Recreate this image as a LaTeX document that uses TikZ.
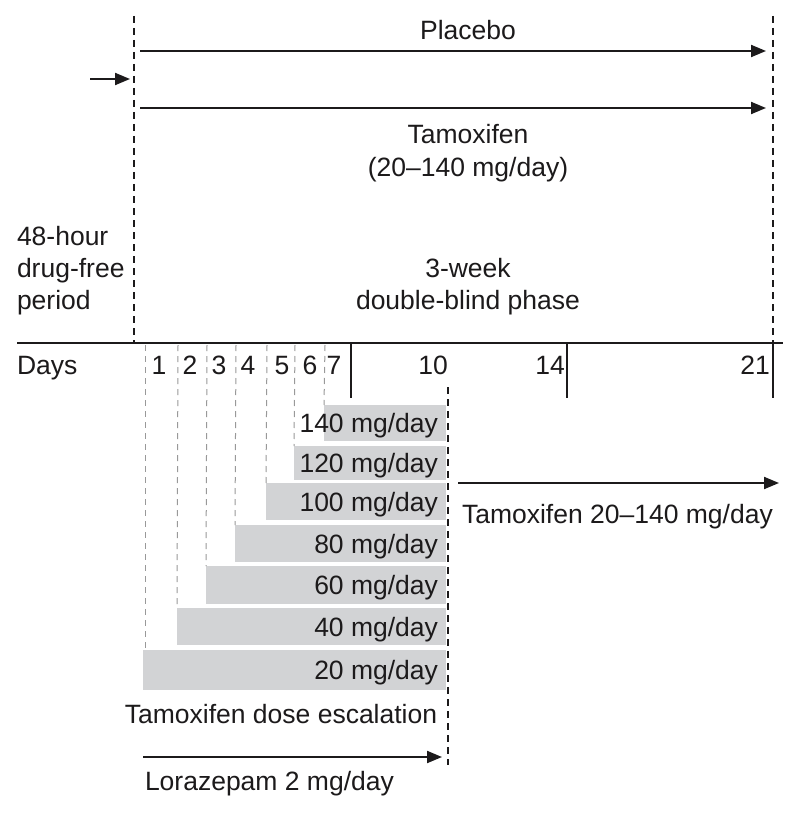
\documentclass[tikz,border=0pt]{standalone}
\usepackage{fontspec}
\setmainfont{Liberation Sans}
\usetikzlibrary{arrows.meta}
\definecolor{barfill}{RGB}{210,211,213}
\definecolor{ink}{RGB}{28,26,27}
\tikzset{
  every node/.style={inner sep=0pt, outer sep=0pt, text=ink, font=\fontsize{26.5}{31}\selectfont},
  arr/.style={draw=ink, line width=2pt, -{Triangle[length=15pt,width=12pt]}},
  phase/.style={draw=ink, line width=1.7pt, dash pattern=on 7pt off 5pt},
  guide/.style={draw=gray!80, line width=1pt, dash pattern=on 6pt off 5pt},
  tick/.style={draw=ink, line width=1.8pt},
  bar/.style={fill=barfill, draw=none, anchor=north west},
}
\begin{document}
\begin{tikzpicture}[x=1pt,y=-1pt]
\useasboundingbox[fill=white] (0,0) rectangle (800,813);
% phase boundaries
\coordinate (L0) at (134,16); \coordinate (L1) at (134,343);
\coordinate (R0) at (773,16); \coordinate (R1) at (773,343);
\draw[phase] (L0) -- (L1);
\draw[phase] (R0) -- (R1);
% treatment arrows
\coordinate (pa) at (140,51); \coordinate (pb) at (766,51);
\coordinate (ta) at (140,108); \coordinate (tb) at (766,108);
\draw[arr] (pa) -- (pb);
\draw[arr] (ta) -- (tb);
\coordinate (sa) at (90,79); \coordinate (sb) at (130,79);
\draw[arr] (sa) -- (sb);
\node[anchor=base] (placebo) at (468,40) {Placebo};
\node[anchor=base] (tam) at (468,144) {Tamoxifen};
\node[anchor=base] (tamdose) at (468,177) {(20–140 mg/day)};
\node[anchor=base west] (free1) at (17,245) {48-hour};
\node[anchor=base west] (free2) at (17,277) {drug-free};
\node[anchor=base west] (free3) at (17,309) {period};
\node[anchor=base] (db1) at (468,277) {3-week};
\node[anchor=base] (db2) at (468,309) {double-blind phase};
% axis
\coordinate (ax0) at (17,343); \coordinate (ax1) at (783,343);
\draw[tick] (ax0) -- (ax1);
\node[anchor=base west] (days) at (17,374) {Days};
\foreach \n/\x in {1/159,2/190,3/219,4/248,5/282,6/310,7/334,10/433,14/550,21/755}
  \node[anchor=base] (d\n) at (\x,374) {\n};
\coordinate (t7a) at (351,343); \coordinate (t7b) at (351,398);
\coordinate (t14a) at (567,343); \coordinate (t14b) at (567,398);
\coordinate (t21a) at (773,343); \coordinate (t21b) at (773,398);
\draw[tick] (t7a) -- (t7b);
\draw[tick] (t14a) -- (t14b);
\draw[tick] (t21a) -- (t21b);
% dose bars
\foreach \k/\xl/\yt/\yb/\lab in {b140/324/405/441/140,b120/294/446/480/120,b100/266/483/520/100,b80/235/525/562/80,b60/206/566/604/60,b40/177/608/645/40,b20/143/650/690/20}{
  \pgfmathsetmacro{\w}{446-\xl}
  \pgfmathsetmacro{\h}{\yb-\yt}
  \node[bar, minimum width=\w pt, minimum height=\h pt] (\k) at (\xl,\yt) {};
  \node[anchor=base east] (\k t) at ([xshift=-8pt,yshift=-9.5pt]\k.east) {\lab\ mg/day};
  \coordinate (\k g) at (\xl+1,345);
}
% day guide lines
\draw[guide] (145,345) -- (b20.north west -| 145,0);
\draw[guide] (b40g) -- (b40.north west);
\draw[guide] (b60g) -- (b60.north west);
\draw[guide] (b80g) -- (b80.north west);
\draw[guide] (b100g) -- (b100.north west);
\draw[guide] (b120g) -- (b120.north west);
\draw[guide] (b140g) -- (b140.north west);
% day 10 boundary
\coordinate (e0) at (448,387); \coordinate (e1) at (448,765);
\draw[phase] (e0) -- (e1);
\node[anchor=base] (esc) at (281,723) {Tamoxifen dose escalation};
% lorazepam
\coordinate (la) at (143,757); \coordinate (lb) at (442,757);
\draw[arr] (la) -- (lb);
\node[anchor=base west] (lor) at (145,790) {Lorazepam 2 mg/day};
% open-label continuation
\coordinate (ca) at (458,483); \coordinate (cb) at (779,483);
\draw[arr] (ca) -- (cb);
\node[anchor=base west] (cont) at (462,523) {Tamoxifen 20–140 mg/day};
\end{tikzpicture}
\end{document}
